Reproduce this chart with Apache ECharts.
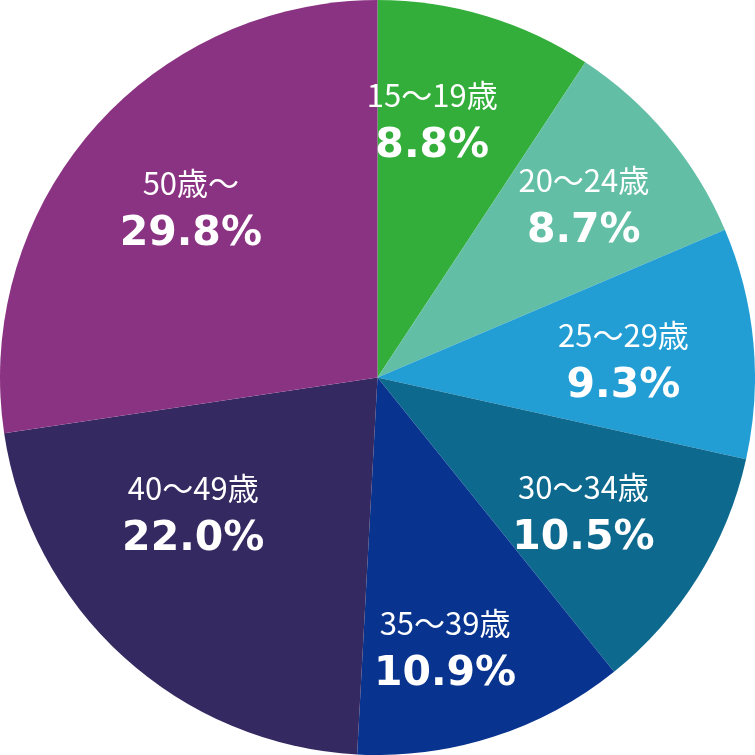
<!DOCTYPE html>
<html><head><meta charset="utf-8">
<script src="https://cdn.jsdelivr.net/npm/echarts@6/dist/echarts.min.js"></script>
<style>html,body{margin:0;padding:0;background:#fff}#c{width:755px;height:755px}</style>
</head><body><div id="c"></div>
<script>
// Age groups, slice shares as drawn, and the printed percentages
const ageGroups = ['15～19歳', '20～24歳', '25～29歳', '30～34歳', '35～39歳', '40～49歳', '50歳～'];
const sliceShares = [9.28, 9.32, 9.87, 10.75, 11.64, 21.78, 27.36];
const percentText = ['8.8%', '8.7%', '9.3%', '10.5%', '10.9%', '22.0%', '29.8%'];

// styling
const colors = ['#33AE3B', '#62BEA5', '#229ED4', '#0E698E', '#08338E', '#352962', '#8B3383'];
const labelNudge = [[-18, -12], [12, -7], [-6, 9], [-9, 4], [-10, 33], [-14, -48], [5, -1]];

const chart = echarts.init(document.getElementById('c'), null, {renderer: 'canvas'});
const mainData = ageGroups.map((n, i) => ({name: n, value: sliceShares[i], itemStyle: {color: colors[i]}}));
const labelData = ageGroups.map((n, i) => ({
  name: n, value: sliceShares[i], pct: percentText[i],
  label: {offset: labelNudge[i]}
}));

chart.setOption({
  animation: false,
  series: [
    {
      type: 'pie', center: ['50%', '50%'], radius: [0, '100%'], startAngle: 90, clockwise: true,
      silent: true, label: {show: false}, labelLine: {show: false},
      itemStyle: {borderWidth: 0}, data: mainData
    },
    {
      type: 'pie', center: ['50%', '50%'], radius: [130, 370], startAngle: 90, clockwise: true,
      silent: true, avoidLabelOverlap: false,
      itemStyle: {color: 'rgba(0,0,0,0)', borderWidth: 0},
      labelLine: {show: false},
      label: {
        show: true, position: 'inside', align: 'center', verticalAlign: 'middle',
        formatter: p => '{a|' + p.name + '}\n{b|' + p.data.pct + '}',
        rich: {
          a: {fontFamily: '"Noto Sans CJK JP", sans-serif', fontSize: 31, color: '#fff', lineHeight: 46, align: 'center'},
          b: {fontFamily: '"DejaVu Sans", sans-serif', fontWeight: 'bold', fontSize: 41, color: '#fff', lineHeight: 56, align: 'center'}
        }
      },
      data: labelData
    }
  ]
});
</script></body></html>
